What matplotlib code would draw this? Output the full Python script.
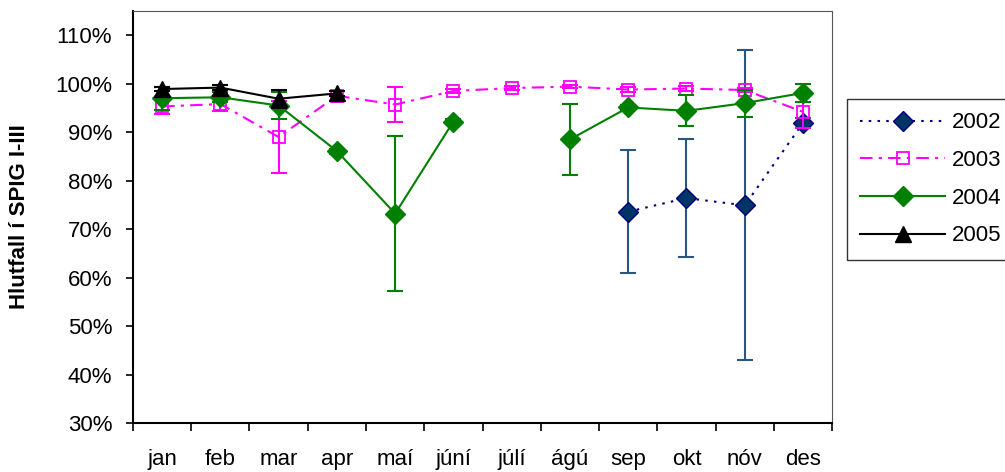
import matplotlib.pyplot as plt
import numpy as np

plt.rcParams['font.family'] = ['Liberation Sans', 'DejaVu Sans']

months = ['jan', 'feb', 'mar', 'apr', 'maí', 'júní', 'júlí', 'ágú', 'sep', 'okt', 'nóv', 'des']
nan = np.nan

v2002 = [nan, nan, nan, nan, nan, nan, nan, nan, 73.6, 76.4, 74.9, 91.9]
e2002 = [nan, nan, nan, nan, nan, nan, nan, nan, 12.7, 12.2, 32.0, 1.0]

v2003 = [95.3, 95.8, 89.0, 97.5, 95.7, 98.5, 99.1, 99.4, 98.8, 99.0, 98.7, 94.2]
e2003 = [1.6, 1.4, 7.5, 1.0, 3.6, 0.5, 0.5, 0.3, 0.5, 0.5, 0.5, 3.4]

v2004 = [97.0, 97.2, 95.5, 86.1, 73.2, 92.2, nan, 88.5, 95.1, 94.4, 96.0, 98.1]
e2004 = [2.4, 1.0, 2.7, 0.5, 16.0, 0.5, nan, 7.4, 0.5, 3.2, 2.8, 1.9]

v2005 = [98.9, 99.2, 96.9, 98.0, nan, nan, nan, nan, nan, nan, nan, nan]
e2005 = [0.5, 0.5, 1.9, 0.5, nan, nan, nan, nan, nan, nan, nan, nan]

yticks = [30, 40, 50, 60, 70, 80, 90, 100, 110]

fig = plt.figure(figsize=(10.05, 4.72), dpi=100)
ax = fig.add_axes([0.1323, 0.1038, 0.6957, 0.8729])
x = np.arange(len(months))

series = [
    ('2002', v2002, e2002, dict(color='#000080', linestyle=(0, (1.2, 3)), marker='D', markersize=10,
                                markerfacecolor='#003366', markeredgecolor='#000080'), '#2a5580'),
    ('2003', v2003, e2003, dict(color='#ff00ff', linestyle=(0, (6, 3, 1.5, 3)), marker='s', markersize=9,
                                markerfacecolor='none', markeredgecolor='#ff00ff', markeredgewidth=1.3), '#ff00ff'),
    ('2004', v2004, e2004, dict(color='#008000', linestyle='-', marker='D', markersize=10,
                                markerfacecolor='#008000', markeredgecolor='#008000'), '#008000'),
    ('2005', v2005, e2005, dict(color='black', linestyle='-', marker='^', markersize=11,
                                markerfacecolor='black', markeredgecolor='black'), 'black'),
]

for name, vals, errs, style, ecol in series:
    ax.errorbar(x, vals, yerr=errs, fmt='none', ecolor=ecol, elinewidth=1.5, capsize=6, capthick=1.5)
    ax.plot(x, vals, linewidth=1.5, label=name, **style)

ax.set_xlim(-0.5, 11.5)
ax.set_ylim(30, 115)
ax.set_yticks(yticks)
ax.set_yticklabels([f'{t}%' for t in yticks], fontsize=16)
ax.set_xticks(np.arange(-0.5, 12, 1))
ax.set_xticklabels([])
ax.set_xticks(x, minor=True)
ax.set_xticklabels(months, minor=True, fontsize=16)
ax.tick_params(axis='x', which='minor', length=0, pad=19)
ax.tick_params(axis='x', which='major', length=6, direction='out', width=1.2)
ax.tick_params(axis='y', length=5, width=1.2, pad=10)
for s in ['left', 'bottom']:
    ax.spines[s].set_linewidth(1.5)
for s in ['top', 'right']:
    ax.spines[s].set_color('#555555')
ax.set_ylabel('Hlutfall í SPIG I-III', fontsize=16, fontweight='bold', labelpad=18)

leg = ax.legend(loc='upper left', bbox_to_anchor=(0.8428, 0.7903), bbox_transform=fig.transFigure,
                borderaxespad=0, fontsize=16, frameon=True, fancybox=False, edgecolor='black',
                handlelength=3.8, labelspacing=0.75, borderpad=0.6, handletextpad=0.3)
leg.get_frame().set_linewidth(1.0)

plt.savefig('out.png', dpi=100)
